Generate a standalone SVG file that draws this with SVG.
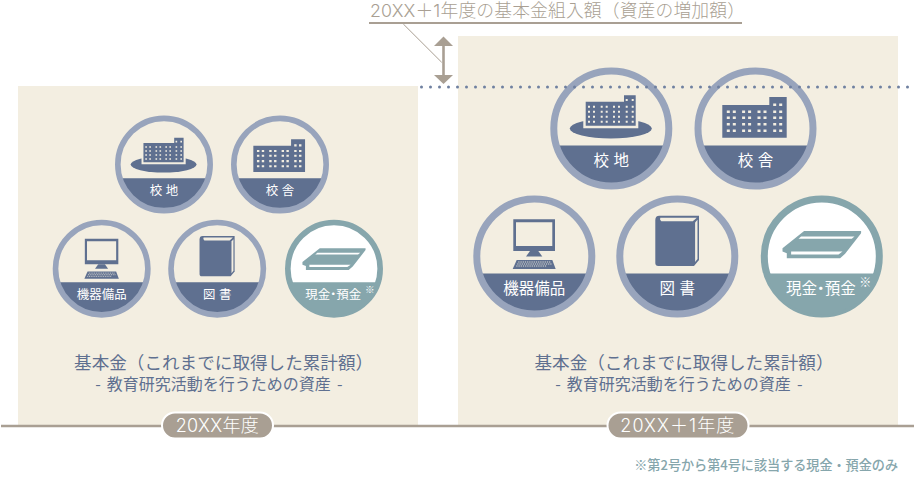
<svg xmlns="http://www.w3.org/2000/svg" width="914" height="477" viewBox="0 0 914 477">
<style>
text{font-family:"Noto Sans CJK JP","Noto Sans",sans-serif;font-weight:400}
.panel{fill:#f3eee1}
.ring{fill:none;stroke:#98a4bc;stroke-width:7}
.ringc{fill:#fff;stroke:#86a6ac;stroke-width:7}
.band{fill:#5f7090}
.bandc{fill:#86a6ac}
.ink{fill:#5f7090}
.win{fill:none;stroke:#f3eee1}
.lab{fill:#fff;font-size:15.5px;text-anchor:middle;word-spacing:1px}
.dot{font-feature-settings:"halt"}
.h1{fill:#5f7090;font-size:17.6px;text-anchor:middle}
.h2{fill:#5f7090;font-size:16px;text-anchor:middle;word-spacing:2.5px}
.pill{fill:#a99f93;stroke:#fff;stroke-width:2}
.pt{fill:#fff;font-size:18px;font-family:Inter,"Noto Sans CJK JP",sans-serif;font-weight:300}
.tan{stroke:#a99f93;fill:none}
.mark{fill:#fff;font-size:12px;text-anchor:middle;font-weight:300}
</style>
<defs>
<g id="base"><path class="band" d="M-55.4,17A58,58 0 0 0 55.4,17Z"/><circle class="ring" r="57.5"/></g>
<g id="ic-land"><ellipse class="ink" cx="-.5" cy="0" rx="41" ry="10"/>
<path d="M-28,-29H9.7V-36H27V-.3H-28Z" fill="#f3eee1"/>
<path class="ink" d="M-25.6,-26.8H12.7V-33.2H24.4V-2.8H-25.6Z"/>
<g class="win" stroke-width="2" stroke-dasharray="2 3 2 5.7 2 3 2 5.3 2 3 2 5.7 2 4 2 100"><path d="M-23.3,-21.8H23"/><path d="M-23.3,-16.8H23"/><path d="M-23.3,-11.8H23"/><path d="M-23.3,-6.8H23"/></g>
<path class="win" stroke-width="2" stroke-dasharray="2 4" d="M14.4,-28.5H23"/></g>
<g id="ic-bldg"><path class="ink" d="M-33.2,-23.5H13.8V-31.5H31.2V9.2H-33.2Z"/>
<g class="win" stroke-width="2.6" stroke-dasharray="3 3 3 6.3 3 3 3 6.4 3 3 3 6.7 3 3 3 100"><path d="M-28.7,-16.8H29"/><path d="M-28.7,-10.8H29"/><path d="M-28.7,-4.2H29"/><path d="M-28.7,2.2H29"/></g>
<path class="win" stroke-width="2.6" stroke-dasharray="3 3" d="M17.7,-23.8H27"/></g>
<g id="ic-pc"><path class="ink" fill-rule="evenodd" d="M-21,-37.2H20.7V-5.5H-21ZM-18.3,-34.2V-10.5H18V-34.2Z"/>
<path class="ink" d="M-4.3,-5.5H4L8,0H-8.3Z"/>
<path class="ink" d="M-17.6,3.5H18L21.4,12.5H-21.6Z"/>
<g class="win" stroke-width=".9" stroke-dasharray="1.2 1"><path d="M-16,5.5H16.5"/><path d="M-17,7.5H17.5"/><path d="M-18,9.5H12"/></g></g>
<g id="ic-book"><path class="ink" d="M-22,-36.5Q-22,-40.8 -18,-40.8H21.7V3.5L16.7,9.5H-19Q-22,9.5 -22,6.2Z"/>
<path d="M-17,-38.8H19.5L15.5,-35.2H-16Q-18,-37 -17,-38.8Z" fill="#f3eee1"/>
<path d="M17.8,-34L20.2,-36.8V2.6L17.8,5.6Z" fill="#f3eee1"/></g>
<g id="ic-cash"><path class="bandc" d="M-17.7,-25.5H39.3V-23.2L23.3,-2.7L18.3,1.7H-35V-3.3L-39.3,-5V-8.3Z"/>
<path fill="#fff" d="M-20.7,-20H32.7L30,-17.7H-23.3Z"/>
<path fill="#fff" d="M-30.7,-5H20.7L16.7,-2H-30.7Z"/></g>
</defs>

<rect id="panel-a" class="panel" x="18" y="86" width="400" height="340"/>
<rect id="panel-b" class="panel" x="458" y="36" width="440" height="390"/>

<g id="a-land" transform="translate(164 164.5) scale(.803)"><use href="#base"/><use href="#ic-land"/><text class="lab" y="37.5">校 地</text></g>
<g id="a-bldg" transform="translate(280 164.5) scale(.803)"><use href="#base"/><use href="#ic-bldg"/><text class="lab" y="37.5">校 舎</text></g>
<g id="a-pc" transform="translate(101.7 268.7) scale(.803)"><use href="#base"/><use href="#ic-pc"/><text class="lab" y="37.5">機器備品</text></g>
<g id="a-book" transform="translate(217.2 268.7) scale(.803)"><use href="#base"/><use href="#ic-book"/><text class="lab" y="37.5">図 書</text></g>
<g id="a-cash" transform="translate(334 268.7) scale(.803)"><circle class="ringc" r="57.5"/><path class="bandc" d="M-55.4,17A58,58 0 0 0 55.4,17Z"/><use href="#ic-cash"/><text class="lab" x="-1" y="37.5">現金<tspan class="dot">・</tspan>預金</text><text class="mark" x="44.5" y="30">※</text></g>

<g id="b-land" transform="translate(611.3 128.5)"><use href="#base"/><use href="#ic-land"/><text class="lab" y="37.5">校 地</text></g>
<g id="b-bldg" transform="translate(755.5 128.5)"><use href="#base"/><use href="#ic-bldg"/><text class="lab" y="37.5">校 舎</text></g>
<g id="b-pc" transform="translate(534.3 256.5)"><use href="#base"/><use href="#ic-pc"/><text class="lab" y="37.5">機器備品</text></g>
<g id="b-book" transform="translate(677.3 256.5)"><use href="#base"/><use href="#ic-book"/><text class="lab" y="37.5">図 書</text></g>
<g id="b-cash" transform="translate(821.8 256.5)"><circle class="ringc" r="57.5"/><path class="bandc" d="M-55.4,17A58,58 0 0 0 55.4,17Z"/><use href="#ic-cash"/><text class="lab" x="-1" y="37.5">現金<tspan class="dot">・</tspan>預金</text><text class="mark" x="43.5" y="30">※</text></g>

<g id="connectors">
<path class="tan" stroke-width="2" d="M369,23H742"/>
<path class="tan" stroke-width="1" d="M403.3,24L441.7,62.3"/>
<path class="tan" stroke-width="2.6" d="M443.5,45V76"/>
<path fill="#a99f93" d="M443.5,36.5L453,46H434Z"/>
<path fill="#a99f93" d="M443.5,84L453,75H434Z"/>
<path d="M421.5,87H914" fill="none" stroke="#6f80a0" stroke-width="3" stroke-linecap="round" stroke-dasharray="0 9"/>
<path class="tan" stroke-width="2.6" d="M1,426H914"/>
</g>

<text id="top-label" x="370" y="16.5" fill="#a99f93" textLength="375" lengthAdjust="spacing" style="font-size:17.8px;font-family:Inter,'Noto Sans CJK JP',sans-serif;font-weight:300">20XX＋1年度の基本金組入額（資産の増加額）</text>

<g id="caption-a"><text class="h1" x="223.6" y="369">基本金（これまでに取得した累計額）</text><text class="h2" x="218.8" y="389.5">- 教育研究活動を行うための資産 -</text></g>
<g id="caption-b"><text class="h1" x="684" y="369">基本金（これまでに取得した累計額）</text><text class="h2" x="678.8" y="389.5">- 教育研究活動を行うための資産 -</text></g>

<g id="year-a"><rect class="pill" x="162" y="412.5" width="111" height="26" rx="13"/><text class="pt" x="175.7" y="431.5" textLength="83" lengthAdjust="spacing">20XX年度</text></g>
<g id="year-b"><rect class="pill" x="607.5" y="412.5" width="141" height="26" rx="13"/><text class="pt" x="620.3" y="431.5" textLength="114" lengthAdjust="spacing">20XX＋1年度</text></g>

<text id="note" x="898" y="470" fill="#86a6ac" text-anchor="end" style="font-size:13.1px;font-weight:500">※第2号から第4号に該当する現金・預金のみ</text>
</svg>
